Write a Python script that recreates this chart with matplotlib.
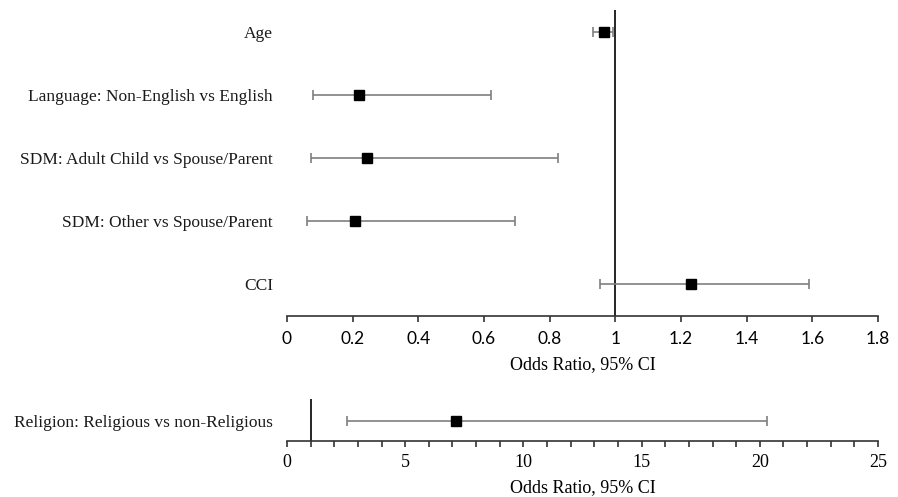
import matplotlib.pyplot as plt

# main model (odds ratios with 95% CI)
labels = [
    "Age",
    "Language: Non-English vs English",
    "SDM: Adult Child vs Spouse/Parent",
    "SDM: Other vs Spouse/Parent",
    "CCI",
]
odds = [0.966, 0.219, 0.243, 0.207, 1.23]
ci_low = [0.932, 0.078, 0.073, 0.062, 0.954]
ci_high = [0.993, 0.62, 0.826, 0.694, 1.59]

# religion, on its own wider scale
rel_label = ["Religion: Religious vs non-Religious"]
rel_odds = [7.13]
rel_low = [2.52]
rel_high = [20.3]

SERIF = "Liberation Serif"
SANS = "Lato"
W, H = 898, 497


def forest(ax, names, est, lo, hi):
    ypos = list(range(len(names)))
    err = [[e - l for e, l in zip(est, lo)], [h - e for e, h in zip(est, hi)]]
    ax.errorbar(
        est, ypos, xerr=err, fmt="none", ecolor="#7f7f7f",
        elinewidth=1.2, capsize=3.5, capthick=1.2, zorder=2,
    )
    ax.plot(est, ypos, "s", color="black", markersize=7, zorder=3)
    ax.axvline(1, color="black", linewidth=1.2, zorder=1)
    ax.set_yticks(ypos)
    ax.set_yticklabels(names, fontfamily=SERIF, fontsize=12.5, color="#1a1a1a")
    ax.tick_params(axis="y", length=0, pad=10)
    for side in ["left", "right", "top"]:
        ax.spines[side].set_visible(False)
    ax.spines["bottom"].set_linewidth(1.2)
    ax.spines["bottom"].set_color("#333333")
    ax.tick_params(axis="x", direction="out", length=4, width=1.2,
                   color="#333333", labelsize=12)


fig = plt.figure(figsize=(W / 100, H / 100), dpi=100)

left = 287 / W
width = (878 - 287) / W

# top panel
ax1 = fig.add_axes([left, 1 - 316 / H, width, (316 - 10) / H])
forest(ax1, labels, odds, ci_low, ci_high)
ax1.set_xlim(0, 1.8)
ax1.set_ylim(4.51, -0.35)
ax1.set_xticks([0, 0.2, 0.4, 0.6, 0.8, 1, 1.2, 1.4, 1.6, 1.8])
ax1.set_xticklabels(["0", "0.2", "0.4", "0.6", "0.8", "1", "1.2", "1.4", "1.6", "1.8"],
                    fontfamily=SANS, fontsize=12.5)
ax1.tick_params(axis="x", pad=6.5)
ax1.set_xlabel("Odds Ratio, 95% CI", fontfamily=SERIF, fontsize=13, labelpad=7)

# bottom panel
ax2 = fig.add_axes([left, 1 - 441 / H, width, (441 - 399) / H])
forest(ax2, rel_label, rel_odds, rel_low, rel_high)
ax2.set_xlim(0, 25)
ax2.set_ylim(-1, 1.1)
ax2.set_xticks(range(0, 26, 1), minor=True)
ax2.set_xticks([0, 5, 10, 15, 20, 25])
ax2.set_xticklabels(["0", "5", "10", "15", "20", "25"], fontfamily=SERIF, fontsize=13)
ax2.tick_params(axis="x", which="both", direction="out", length=4, width=1.2,
                color="#333333", pad=5.5)
ax2.set_xlabel("Odds Ratio, 95% CI", fontfamily=SERIF, fontsize=13, labelpad=6)

fig.savefig("out.png", dpi=100)
